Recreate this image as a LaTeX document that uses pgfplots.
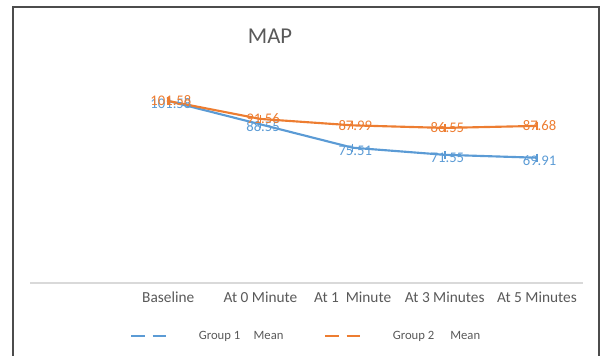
\documentclass[border=0pt]{standalone}
\usepackage{pgfplots}
\pgfplotsset{compat=1.18}
\usepackage{fontspec}
\setmainfont{Carlito}
\definecolor{bl}{HTML}{5B9BD5}
\definecolor{orr}{HTML}{ED7D31}
\definecolor{txt}{HTML}{595959}
\begin{document}
\begin{tikzpicture}
\useasboundingbox (0,0) rectangle (451.5pt,267pt);
\draw[line width=1.3pt, color=black!70] (9.75pt,-5pt) -- (9.75pt,261.75pt) -- (449.25pt,261.75pt) -- (449.25pt,-5pt);
\node[font=\fontsize{17}{20}\selectfont, color=txt] at (202.5pt,240pt) {MAP};
\begin{axis}[
  at={(22.5pt,54.75pt)}, anchor=south west,
  scale only axis, width=414.75pt, height=161.25pt,
  xmin=-1.5, xmax=4.5, ymin=0, ymax=120,
  axis y line=none, axis x line=bottom,
  axis line style={-, draw=black!15, line width=0.8pt},
  ytick=\empty,
  xtick={0,1,2,3,4},
  xticklabels={Baseline, At 0 Minute, At 1\ \ Minute, At 3 Minutes, At 5 Minutes},
  major tick length=0pt,
  xticklabel style={font=\fontsize{11.5}{13}\selectfont, color=txt, yshift=-3pt},
  clip=false,
  /pgf/number format/assume math mode=true,
  /pgf/number format/.cd, fixed, fixed zerofill, precision=2, /pgfplots/.cd,
  nodes near coords,
  every node near coord/.append style={anchor=center, xshift=2pt, font=\fontsize{11}{12}\selectfont},
  legend columns=2,
  legend style={at={(0.5,-0.248)}, anchor=center, draw=none, fill=none,
    font=\fontsize{9.5}{11}\selectfont, text=txt,
    /tikz/every odd column/.append style={column sep=22pt},
    /tikz/every even column/.append style={column sep=0pt}},
  legend cell align=left,
  legend image code/.code={\draw[#1, line width=1.5pt, dash pattern=on 10pt off 6pt] (0pt,0pt) -- (26pt,0pt);},
]
\addplot[color=bl, line width=1.6pt, mark=|, mark size=3pt, mark options={line width=1.2pt},
  every node near coord/.append style={color=bl, yshift=-2pt}]
  coordinates {(0,101.58) (1,88.55) (2,75.51) (3,71.55) (4,69.91)};
\addlegendentry{\makebox[92pt][l]{Group 1\hspace{10pt}Mean}}
\addplot[color=orr, line width=1.6pt, mark=|, mark size=3pt, mark options={line width=1.2pt},
  every node near coord/.append style={color=orr}]
  coordinates {(0,101.58) (1,91.56) (2,87.99) (3,86.55) (4,87.68)};
\addlegendentry{Group 2\hspace{12pt}Mean}
\end{axis}
\end{tikzpicture}
\end{document}
